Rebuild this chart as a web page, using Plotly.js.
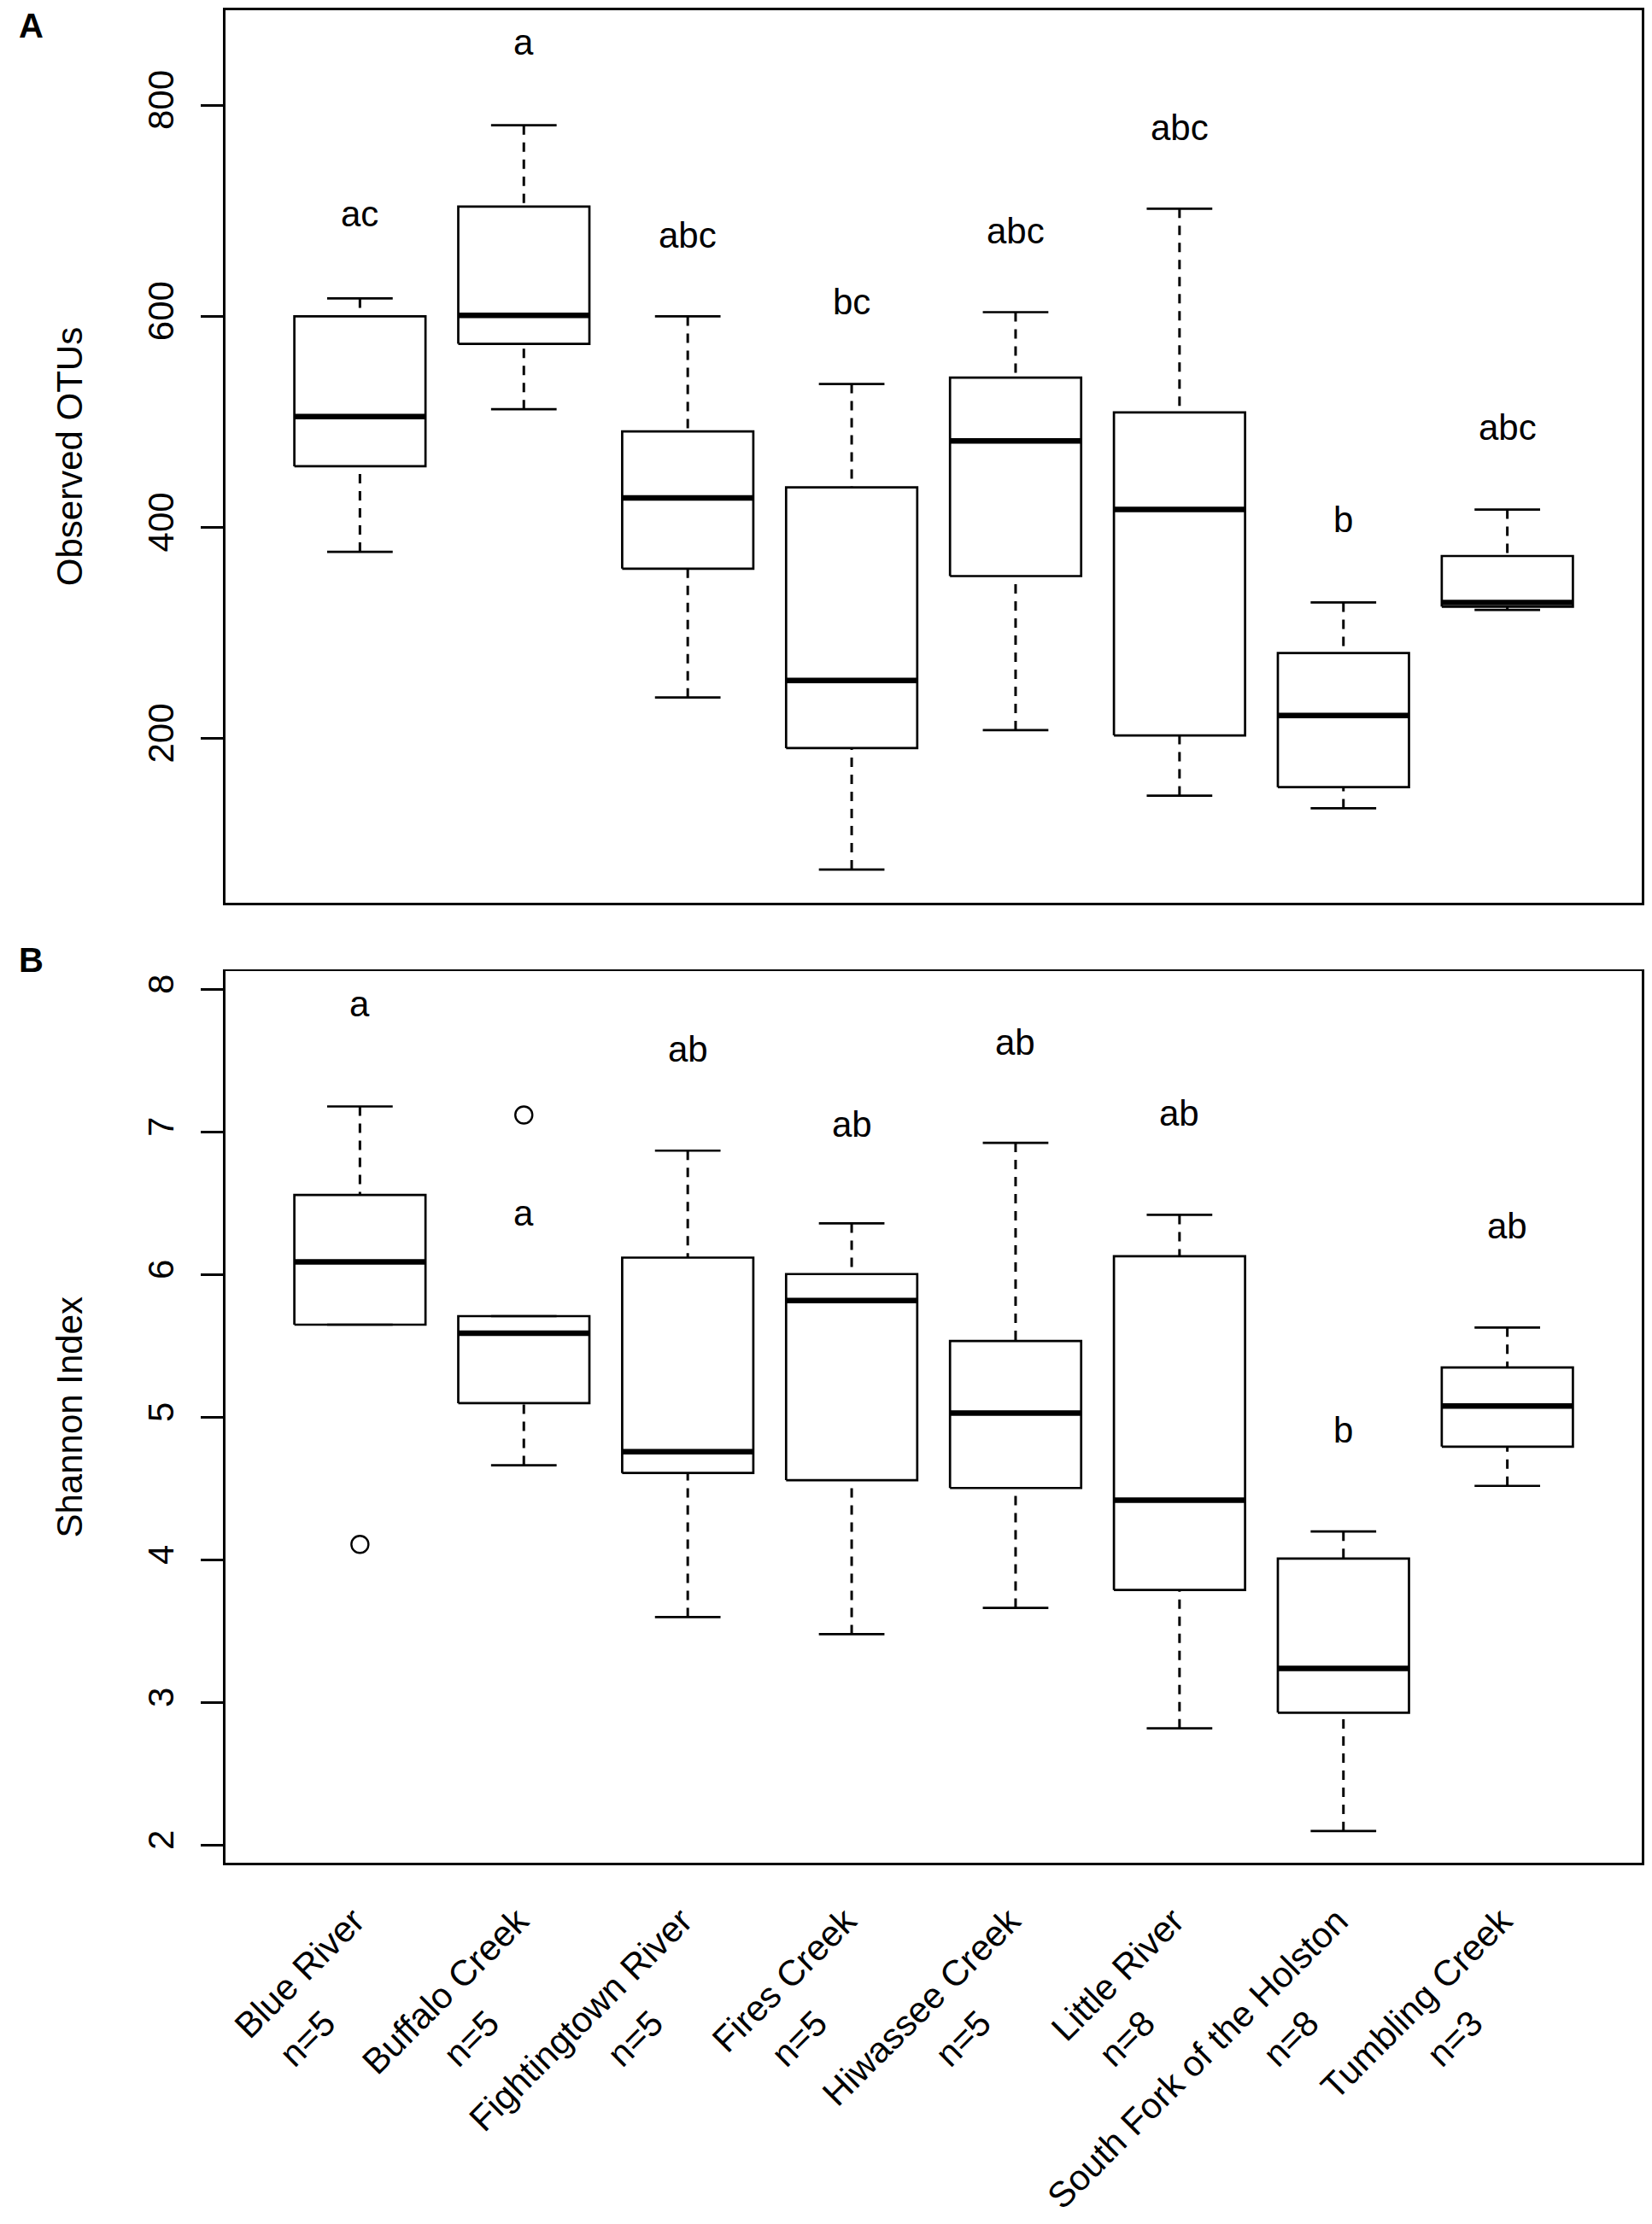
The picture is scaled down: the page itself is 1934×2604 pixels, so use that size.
<!DOCTYPE html>
<html><head><meta charset="utf-8">
<script src="https://cdn.plot.ly/plotly-3.0.1.min.js"></script>
<style>html,body{margin:0;padding:0;background:#fff}</style>
</head><body><div id="chart" style="width:1934px;height:2604px"></div>
<script>
// ---------- data ----------
const sites = ["Blue River","Buffalo Creek","Fightingtown River","Fires Creek","Hiwassee Creek","Little River","South Fork of the Holston","Tumbling Creek"];
const sampleSizes = ["n=5","n=5","n=5","n=5","n=5","n=8","n=8","n=3"];

// Panel A: Observed OTUs (box statistics)
const otuLowerWhisker = [377, 512, 239, 76, 208, 146, 134, 322];
const otuQ1 = [458, 574, 361, 191, 354, 203, 154, 325];
const otuMedian = [505, 601, 428, 255, 482, 417, 222, 329];
const otuQ3 = [600, 704, 491, 438, 542, 509, 281, 373];
const otuUpperWhisker = [617, 781, 600, 536, 604, 702, 329, 417];
const otuLetters = ["ac","a","abc","bc","abc","abc","b","abc"];
const otuLetterY = [697, 860, 677, 614, 681, 779, 407, 495];
const otuTicks = [200, 400, 600, 800];

// Panel B: Shannon Index (box statistics)
const shLowerWhisker = [5.65, 4.665, 3.60, 3.48, 3.665, 2.82, 2.10, 4.52];
const shQ1 = [5.65, 5.10, 4.61, 4.56, 4.505, 3.79, 2.93, 4.795];
const shMedian = [6.09, 5.59, 4.76, 5.82, 5.03, 4.42, 3.24, 5.08];
const shQ3 = [6.56, 5.71, 6.12, 6.005, 5.535, 6.13, 4.01, 5.35];
const shUpperWhisker = [7.18, 5.71, 6.87, 6.36, 6.925, 6.42, 4.20, 5.63];
const shOutlierSite = ["Blue River", "Buffalo Creek"];
const shOutlierValue = [4.11, 7.12];
const shLetters = ["a","a","ab","ab","ab","ab","b","ab"];
const shLetterY = [7.90, 6.43, 7.58, 7.055, 7.63, 7.135, 4.91, 6.34];
const shTicks = [2, 3, 4, 5, 6, 7, 8];

// ---------- drawing ----------
const FONT = "Liberation Sans, Arial, Helvetica, sans-serif";
const BOX_HALF = 0.4, CAP_HALF = 0.2;
const pos = sites.map((s, i) => i + 1);

function boxTraces(lw, q1, med, q3, uw, xa, ya) {
  const bx = [], by = [], mx = [], my = [], wx = [], wy = [], cx = [], cy = [];
  pos.forEach((p, i) => {
    bx.push(p - BOX_HALF, p + BOX_HALF, p + BOX_HALF, p - BOX_HALF, p - BOX_HALF, null);
    by.push(q1[i], q1[i], q3[i], q3[i], q1[i], null);
    mx.push(p - BOX_HALF, p + BOX_HALF, null);
    my.push(med[i], med[i], null);
    wx.push(p, p, null, p, p, null);
    wy.push(uw[i], q3[i], null, lw[i], q1[i], null);
    cx.push(p - CAP_HALF, p + CAP_HALF, null, p - CAP_HALF, p + CAP_HALF, null);
    cy.push(uw[i], uw[i], null, lw[i], lw[i], null);
  });
  const base = {type: "scatter", mode: "lines", xaxis: xa, yaxis: ya, hoverinfo: "skip", showlegend: false};
  return [
    Object.assign({}, base, {x: wx, y: wy, line: {color: "#000", width: 3, dash: "11px,9px"}}),
    Object.assign({}, base, {x: cx, y: cy, line: {color: "#000", width: 2.7}}),
    Object.assign({}, base, {x: bx, y: by, fill: "none", line: {color: "#000", width: 2.7}}),
    Object.assign({}, base, {x: mx, y: my, line: {color: "#000", width: 6.5}})
  ];
}

const traces = [].concat(
  boxTraces(otuLowerWhisker, otuQ1, otuMedian, otuQ3, otuUpperWhisker, "x2", "y2"),
  boxTraces(shLowerWhisker, shQ1, shMedian, shQ3, shUpperWhisker, "x", "y"),
  [{
    type: "scatter", mode: "markers", xaxis: "x", yaxis: "y", showlegend: false, hoverinfo: "skip",
    x: shOutlierSite.map(s => sites.indexOf(s) + 1), y: shOutlierValue,
    marker: {symbol: "circle-open", size: 20, color: "#000", line: {width: 2.4, color: "#000"}}
  },
  {
    type: "scatter", mode: "markers", xaxis: "x3", yaxis: "y", showlegend: false, hoverinfo: "skip",
    x: pos, y: shMedian, marker: {opacity: 0}
  }]
);

const annotations = [];
pos.forEach((p, i) => {
  annotations.push({xref: "x2", yref: "y2", x: p, y: otuLetterY[i], text: otuLetters[i], showarrow: false,
    xanchor: "center", yanchor: "middle", font: {family: FONT, size: 42, color: "#000"}});
  annotations.push({xref: "x", yref: "y", x: p, y: shLetterY[i], text: shLetters[i], showarrow: false,
    xanchor: "center", yanchor: "middle", font: {family: FONT, size: 42, color: "#000"}});
});
annotations.push({xref: "paper", yref: "paper", x: -0.137, y: 0.9917, text: "<b>A</b>", showarrow: false,
  xanchor: "center", yanchor: "middle", font: {family: FONT, size: 40, color: "#000"}});
annotations.push({xref: "paper", yref: "paper", x: -0.137, y: 0.4875, text: "<b>B</b>", showarrow: false,
  xanchor: "center", yanchor: "middle", font: {family: FONT, size: 40, color: "#000"}});

const XR = [0.18, 8.82];
const frame = {showline: true, mirror: true, linecolor: "#000", linewidth: 2.7, showgrid: false, zeroline: false};
const yTickStyle = {ticks: "outside", ticklen: 26, tickwidth: 2.7, tickcolor: "#000", tickangle: -90, ticklabelstandoff: 16,
  tickfont: {family: FONT, size: 42, color: "#000"}};

const layout = {
  width: 1934, height: 2604,
  margin: {l: 264, r: 12, t: 12, b: 423},
  paper_bgcolor: "#fff", plot_bgcolor: "#fff",
  font: {family: FONT, color: "#000"},
  showlegend: false,
  xaxis: Object.assign({}, frame, {domain: [0, 1], anchor: "y", range: XR, tickmode: "array", tickvals: pos, ticktext: sites,
    ticks: "", tickangle: -45, ticklabelstandoff: 24, ticklabelshift: -7, tickfont: {family: FONT, size: 42, color: "#000"}}),
  xaxis3: {overlaying: "x", anchor: "y", side: "bottom", range: XR, tickmode: "array", tickvals: pos, ticktext: sampleSizes,
    ticks: "", tickangle: -45, ticklabelstandoff: 154, ticklabelshift: -41, showline: false, showgrid: false, zeroline: false,
    tickfont: {family: FONT, size: 42, color: "#000"}},
  yaxis: Object.assign({}, frame, yTickStyle, {domain: [0, 0.4811], anchor: "x", range: [1.878, 8.126], tickmode: "array", tickvals: shTicks,
    title: {text: "Shannon Index", standoff: 55, font: {family: FONT, size: 42, color: "#000"}}}),
  xaxis2: Object.assign({}, frame, {domain: [0, 1], anchor: "y2", range: XR, showticklabels: false, ticks: ""}),
  yaxis2: Object.assign({}, frame, yTickStyle, {domain: [0.5182, 1], anchor: "x2", range: [44.5, 890], tickmode: "array", tickvals: otuTicks,
    title: {text: "Observed OTUs", standoff: 55, font: {family: FONT, size: 42, color: "#000"}}}),
  annotations: annotations
};

Plotly.newPlot("chart", traces, layout, {staticPlot: true, displayModeBar: false});
</script>
</body></html>
